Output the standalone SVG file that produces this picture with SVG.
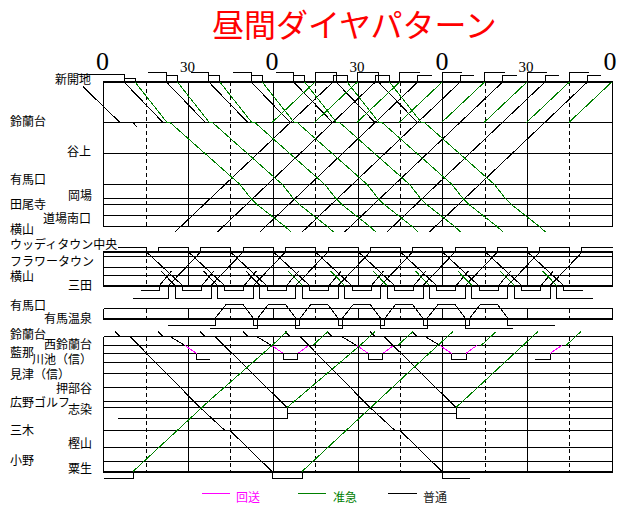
<svg xmlns="http://www.w3.org/2000/svg" width="627" height="518" viewBox="0 0 627 518">
<style>
.l{fill:none;stroke:#000;stroke-width:1;shape-rendering:crispEdges}
.t{stroke-width:2}
.d{stroke-dasharray:4 3}
.n{fill:none;stroke:#000;stroke-width:1;shape-rendering:crispEdges}
.g{fill:none;stroke:#008000;stroke-width:1;shape-rendering:crispEdges}
.m{fill:none;stroke:#f0f;stroke-width:1;shape-rendering:crispEdges}
.j{font-family:"Noto Sans CJK JP","Noto Sans CJK SC",sans-serif;font-size:12px;fill:#000}
.h{font-family:"Liberation Serif",serif;fill:#000;text-anchor:middle}
</style>
<defs>
<path id="gd" d="M135,82L167,122.5L170,122.5L205,153.5L240,184.5L251,198.5L257,204.5L271,215.5L285,226.5L291,232"/>
<path id="br" d="M175,232L333,82"/>
<path id="gr" d="M272,122.5L315,82"/>
<path id="bd" d="M124,82L163,122.5"/>
<path id="s2r" d="M168.6,285.5L200.6,252"/>
<path id="s2a" d="M159.5,285.5L171.5,271"/>
<path id="s2g" d="M288.2,271L302.2,285.5"/>
<path id="s2b" d="M175,285.5V298H211V285.5"/>
<path id="s2c" d="M182.5,285.5V290.5H201.5V285.5"/>
<path id="s3t" d="M215,318.5L226,304.5L243,304.5L253.5,318.5"/>
<path id="stb" d="M115,331.5L120,336.5"/>
<path id="kb" d="M256.7,336.5L271.7,345.5"/>
<path id="km" d="M271.7,345.5L283.4,353.5M297.7,353.5L308.4,345.5"/>
<path id="kx" d="M283.4,353.5V359.5H297.7V353.5"/>
<path id="kg" d="M312.7,345.5L328,331.5"/>
</defs>

<text x="212" y="37" font-family="Noto Sans CJK JP, sans-serif" font-size="32" fill="#f00">昼間ダイヤパターン</text>

<g id="hours">
<text class="h" x="102.5" y="70" font-size="26">0</text>
<text class="h" x="272" y="70" font-size="26">0</text>
<text class="h" x="442" y="70" font-size="26">0</text>
<text class="h" x="610" y="70" font-size="26">0</text>
<text class="h" x="187.5" y="72" font-size="15">30</text>
<text class="h" x="357" y="72" font-size="15">30</text>
<text class="h" x="526" y="72" font-size="15">30</text>
</g>

<g id="stations">
<text class="j" x="55" y="84">新開地</text>
<text class="j" x="10" y="126">鈴蘭台</text>
<text class="j" x="67" y="155.5">谷上</text>
<text class="j" x="10" y="184">有馬口</text>
<text class="j" x="68" y="200">岡場</text>
<text class="j" x="10" y="208.5">田尾寺</text>
<text class="j" x="43" y="222.5">道場南口</text>
<text class="j" x="10" y="233.5">横山</text>
<text class="j" x="10" y="249">ウッディタウン中央</text>
<text class="j" x="10" y="265.5">フラワータウン</text>
<text class="j" x="10" y="281">横山</text>
<text class="j" x="68" y="290">三田</text>
<text class="j" x="10" y="309.5">有馬口</text>
<text class="j" x="44" y="323">有馬温泉</text>
<text class="j" x="10" y="338.5">鈴蘭台</text>
<text class="j" x="44" y="348.5">西鈴蘭台</text>
<text class="j" x="10" y="356.5">藍那</text>
<text class="j" x="32" y="364">川池（信）</text>
<text class="j" x="10" y="378.5">見津（信）</text>
<text class="j" x="56" y="393">押部谷</text>
<text class="j" x="10" y="406.5">広野ゴルフ</text>
<text class="j" x="68" y="414">志染</text>
<text class="j" x="10" y="434.5">三木</text>
<text class="j" x="68" y="447.5">樫山</text>
<text class="j" x="10" y="464.5">小野</text>
<text class="j" x="68" y="473">粟生</text>
</g>

<g id="grid">
<path class="l t" d="M103,82H613M103,252H613M103,285.5H613M103,318.5H613M103,472H613"/>
<path class="l" d="M103.5,122.5H612.5M103.5,153.5H612.5M103.5,184.5H612.5M103.5,198.5H612.5M103.5,204.5H612.5M103.5,215.5H612.5M103.5,226.5H612.5
M103.5,256.5H612.5M103.5,267.5H612.5M103.5,275.5H612.5
M103.5,308.5H612.5
M103.5,336.5H612.5M103.5,345.5H612.5M103.5,353.5H612.5M103.5,362.5H612.5M103.5,373.5H612.5M103.5,387.5H612.5M103.5,401.5H612.5M103.5,407.5H612.5M103.5,430.5H612.5M103.5,447.5H612.5M103.5,461.5H612.5"/>
<path class="l" d="M103.5,82V226.5M188.5,82V226.5M273.5,82V226.5M358.5,82V226.5M442.5,82V226.5M527.5,82V226.5M612.5,82V226.5
M103.5,252V285.5M188.5,252V285.5M273.5,252V285.5M358.5,252V285.5M442.5,252V285.5M527.5,252V285.5M612.5,252V285.5
M103.5,308.5V318.5M188.5,308.5V318.5M273.5,308.5V318.5M358.5,308.5V318.5M442.5,308.5V318.5M527.5,308.5V318.5M612.5,308.5V318.5
M103.5,336.5V472M188.5,336.5V472M273.5,336.5V472M358.5,336.5V472M442.5,336.5V472M527.5,336.5V472M612.5,336.5V472"/>
<path class="l d" d="M146.5,82V226.5M230.5,82V226.5M315.5,82V226.5M400.5,82V226.5M485.5,82V226.5M569.5,82V226.5
M146.5,252V285.5M230.5,252V285.5M315.5,252V285.5M400.5,252V285.5M485.5,252V285.5M569.5,252V285.5
M146.5,308.5V318.5M230.5,308.5V318.5M315.5,308.5V318.5M400.5,308.5V318.5M485.5,308.5V318.5M569.5,308.5V318.5
M146.5,336.5V472M230.5,336.5V472M315.5,336.5V472M400.5,336.5V472M485.5,336.5V472M569.5,336.5V472"/>
</g>

<g id="connectors">
<g class="n">
<path d="M83,86.7L120,122.5M133,122.5L137,127"/>
<use href="#bd"/><use href="#bd" x="42.4"/><use href="#bd" x="84.8"/><use href="#bd" x="127.2"/><use href="#bd" x="169.6"/><use href="#bd" x="212"/><use href="#bd" x="254.4"/>
<use href="#br"/><use href="#br" x="42.4"/><use href="#br" x="84.8"/><use href="#br" x="127.2"/><use href="#br" x="169.6"/><use href="#br" x="212"/><use href="#br" x="254.4"/>
<path d="M78,74.5H124V82M148.4,72.5H166.4V82M190.8,72.5H208.8V82M233.2,72.5H251.2V82M275.6,72.5H293.6V82M315,82V72.5H336V82M357.4,82V72.5H378.4V82M399.8,82V72.5H419.8M442.2,82V72.5H462.2M484.6,82V72.5H504.6M527,82V72.5H547M569.4,82V72.5H589.4"/>
<path d="M124,78H135V82M166.4,75.5H177.4V82M208.8,75.5H219.8V82M251.2,75.5H262.2V82M293.6,75.5H304.6V82M333,82V75.5H347V82M375.4,82V75.5H389.4V82M417.8,82V75.5H431.8M460.2,82V75.5H474.2M502.6,82V75.5H516.6M545,82V75.5H559M587.4,82V75.5H601.4"/>
</g>
<g class="g">
<use href="#gd"/><use href="#gd" x="42.4"/><use href="#gd" x="84.8"/><use href="#gd" x="127.2"/><use href="#gd" x="169.6"/><use href="#gd" x="212"/><use href="#gd" x="254.4"/>
<use href="#gr"/><use href="#gr" x="42.4"/><use href="#gr" x="84.8"/><use href="#gr" x="127.2"/><use href="#gr" x="169.6"/><use href="#gr" x="212"/><use href="#gr" x="254.4"/><use href="#gr" x="296.8"/>
</g>
<g class="n">
<path d="M118,247.5H146.5V252M158.5,252V247.5H188.5V252M200.5,252V247.5H230.5V252M243.5,252V247.5H273.5V252M285.5,252V247.5H315.5V252M328.5,252V247.5H358.5V252M370.5,252V247.5H400.5V252M412.5,252V247.5H442.5V252M455.5,252V247.5H485.5V252M497.5,252V247.5H527.5V252M539.5,252V247.5H569.5V252M581.5,252V247.5H612.5"/>
<path d="M146.5,252L182.5,285.5M188.5,252L224.5,285.5M230.5,252L266.5,285.5M273.5,252L309.5,285.5M315.5,252L351.5,285.5M358.5,252L394.5,285.5M400.5,252L436.5,285.5M442.5,252L478.5,285.5M485.5,252L521.5,285.5M527.5,252L563.5,285.5"/>
<use href="#s2r"/><use href="#s2r" x="42.4"/><use href="#s2r" x="84.8"/><use href="#s2r" x="127.2"/><use href="#s2r" x="169.6"/><use href="#s2r" x="212"/><use href="#s2r" x="254.4"/><use href="#s2r" x="296.8"/><use href="#s2r" x="339.2"/><use href="#s2r" x="381.6"/>
<use href="#s2a"/><use href="#s2a" x="42.4"/><use href="#s2a" x="84.8"/><use href="#s2a" x="127.2"/><use href="#s2a" x="169.6"/><use href="#s2a" x="212"/><use href="#s2a" x="254.4"/><use href="#s2a" x="296.8"/><use href="#s2a" x="339.2"/><use href="#s2a" x="381.6"/>
<path d="M161,271L175,285.5M203.4,271L217.4,285.5M245.8,271L259.8,285.5"/>
<path d="M132.6,298H168.6V285.5M556.6,285.5V298H592.6M140.5,290.5H159.5V285.5M563.5,285.5V290.5H582.5"/>
<use href="#s2b"/><use href="#s2b" x="42.4"/><use href="#s2b" x="84.8"/><use href="#s2b" x="127.2"/><use href="#s2b" x="169.6"/><use href="#s2b" x="212"/><use href="#s2b" x="254.4"/><use href="#s2b" x="296.8"/><use href="#s2b" x="339.2"/>
<use href="#s2c"/><use href="#s2c" x="42.4"/><use href="#s2c" x="84.8"/><use href="#s2c" x="127.2"/><use href="#s2c" x="169.6"/><use href="#s2c" x="212"/><use href="#s2c" x="254.4"/><use href="#s2c" x="296.8"/><use href="#s2c" x="339.2"/>
</g>
<g class="g">
<use href="#s2g"/><use href="#s2g" x="42.4"/><use href="#s2g" x="84.8"/><use href="#s2g" x="127.2"/><use href="#s2g" x="169.6"/><use href="#s2g" x="212"/><use href="#s2g" x="254.4"/>
</g>
<g class="n">
<use href="#s3t"/><use href="#s3t" x="42.4"/><use href="#s3t" x="84.8"/><use href="#s3t" x="127.2"/><use href="#s3t" x="169.6"/><use href="#s3t" x="212"/><use href="#s3t" x="254.4"/>
<path d="M168.3,325H215V318.5M210,328.5H257.4V318.5M253.5,318.5V325H299.8V318.5M295.9,318.5V328.5H342.2V318.5M338.3,318.5V325H384.6V318.5M380.7,318.5V328.5H427V318.5M423.1,318.5V325H469.4V318.5M465.5,318.5V328.5H513M507.9,318.5V325H555"/>
</g>
<g class="n">
<use href="#stb"/><use href="#stb" x="43"/><use href="#stb" x="85"/><use href="#stb" x="128"/><use href="#stb" x="170"/><use href="#stb" x="212"/><use href="#stb" x="255"/><use href="#stb" x="297"/>
<path d="M130,336.5L200,407.5L225,430.5L230,430.5L272,471.5V478.5H302V471.5"/>
<path d="M215,336.5L287,407.5V413.5H456V407.5"/>
<path d="M300,336.5L370,407.5L395,430.5L400,430.5L442,471.5V478.5H470"/>
<path d="M384,336.5L456,407.5V418.5H612.5"/>
<path d="M118,418.5H287V407.5M103.5,478.5H133V471.5"/>
<path d="M170,336.5L185,345.5M196.7,353.5V359.5H210"/>
<use href="#kb"/><use href="#kb" x="85"/><use href="#kb" x="168.3"/>
<use href="#kx"/><use href="#kx" x="85"/><use href="#kx" x="168.3"/>
<path d="M535,359.5H550V353.5"/>
</g>
<g class="m">
<path d="M185,345.5L196.7,353.5M550,353.5L561.7,345.5"/>
<use href="#km"/><use href="#km" x="85"/><use href="#km" x="168.3"/>
</g>
<g class="g">
<path d="M133,471.5L210,400L272,345.5L287,331.5"/>
<path d="M287,407.5L360,345.5L375,331.5"/>
<path d="M302,471.5L410,371L453,331.5"/>
<path d="M456,407.5L538,331.5"/>
<path d="M566,345.5L581,331.5"/>
<use href="#kg"/><use href="#kg" x="85"/><use href="#kg" x="168.3"/>
</g>
</g>

<g id="legend">
<path class="m" d="M202,493.5H230"/>
<text class="j" x="236" y="502" style="fill:#f0f">回送</text>
<path class="g" d="M298,493.5H326"/>
<text class="j" x="333" y="502" style="fill:#008000">准急</text>
<path class="n" d="M388,493.5H417"/>
<text class="j" x="423" y="502" style="fill:#222">普通</text>
</g>
</svg>
